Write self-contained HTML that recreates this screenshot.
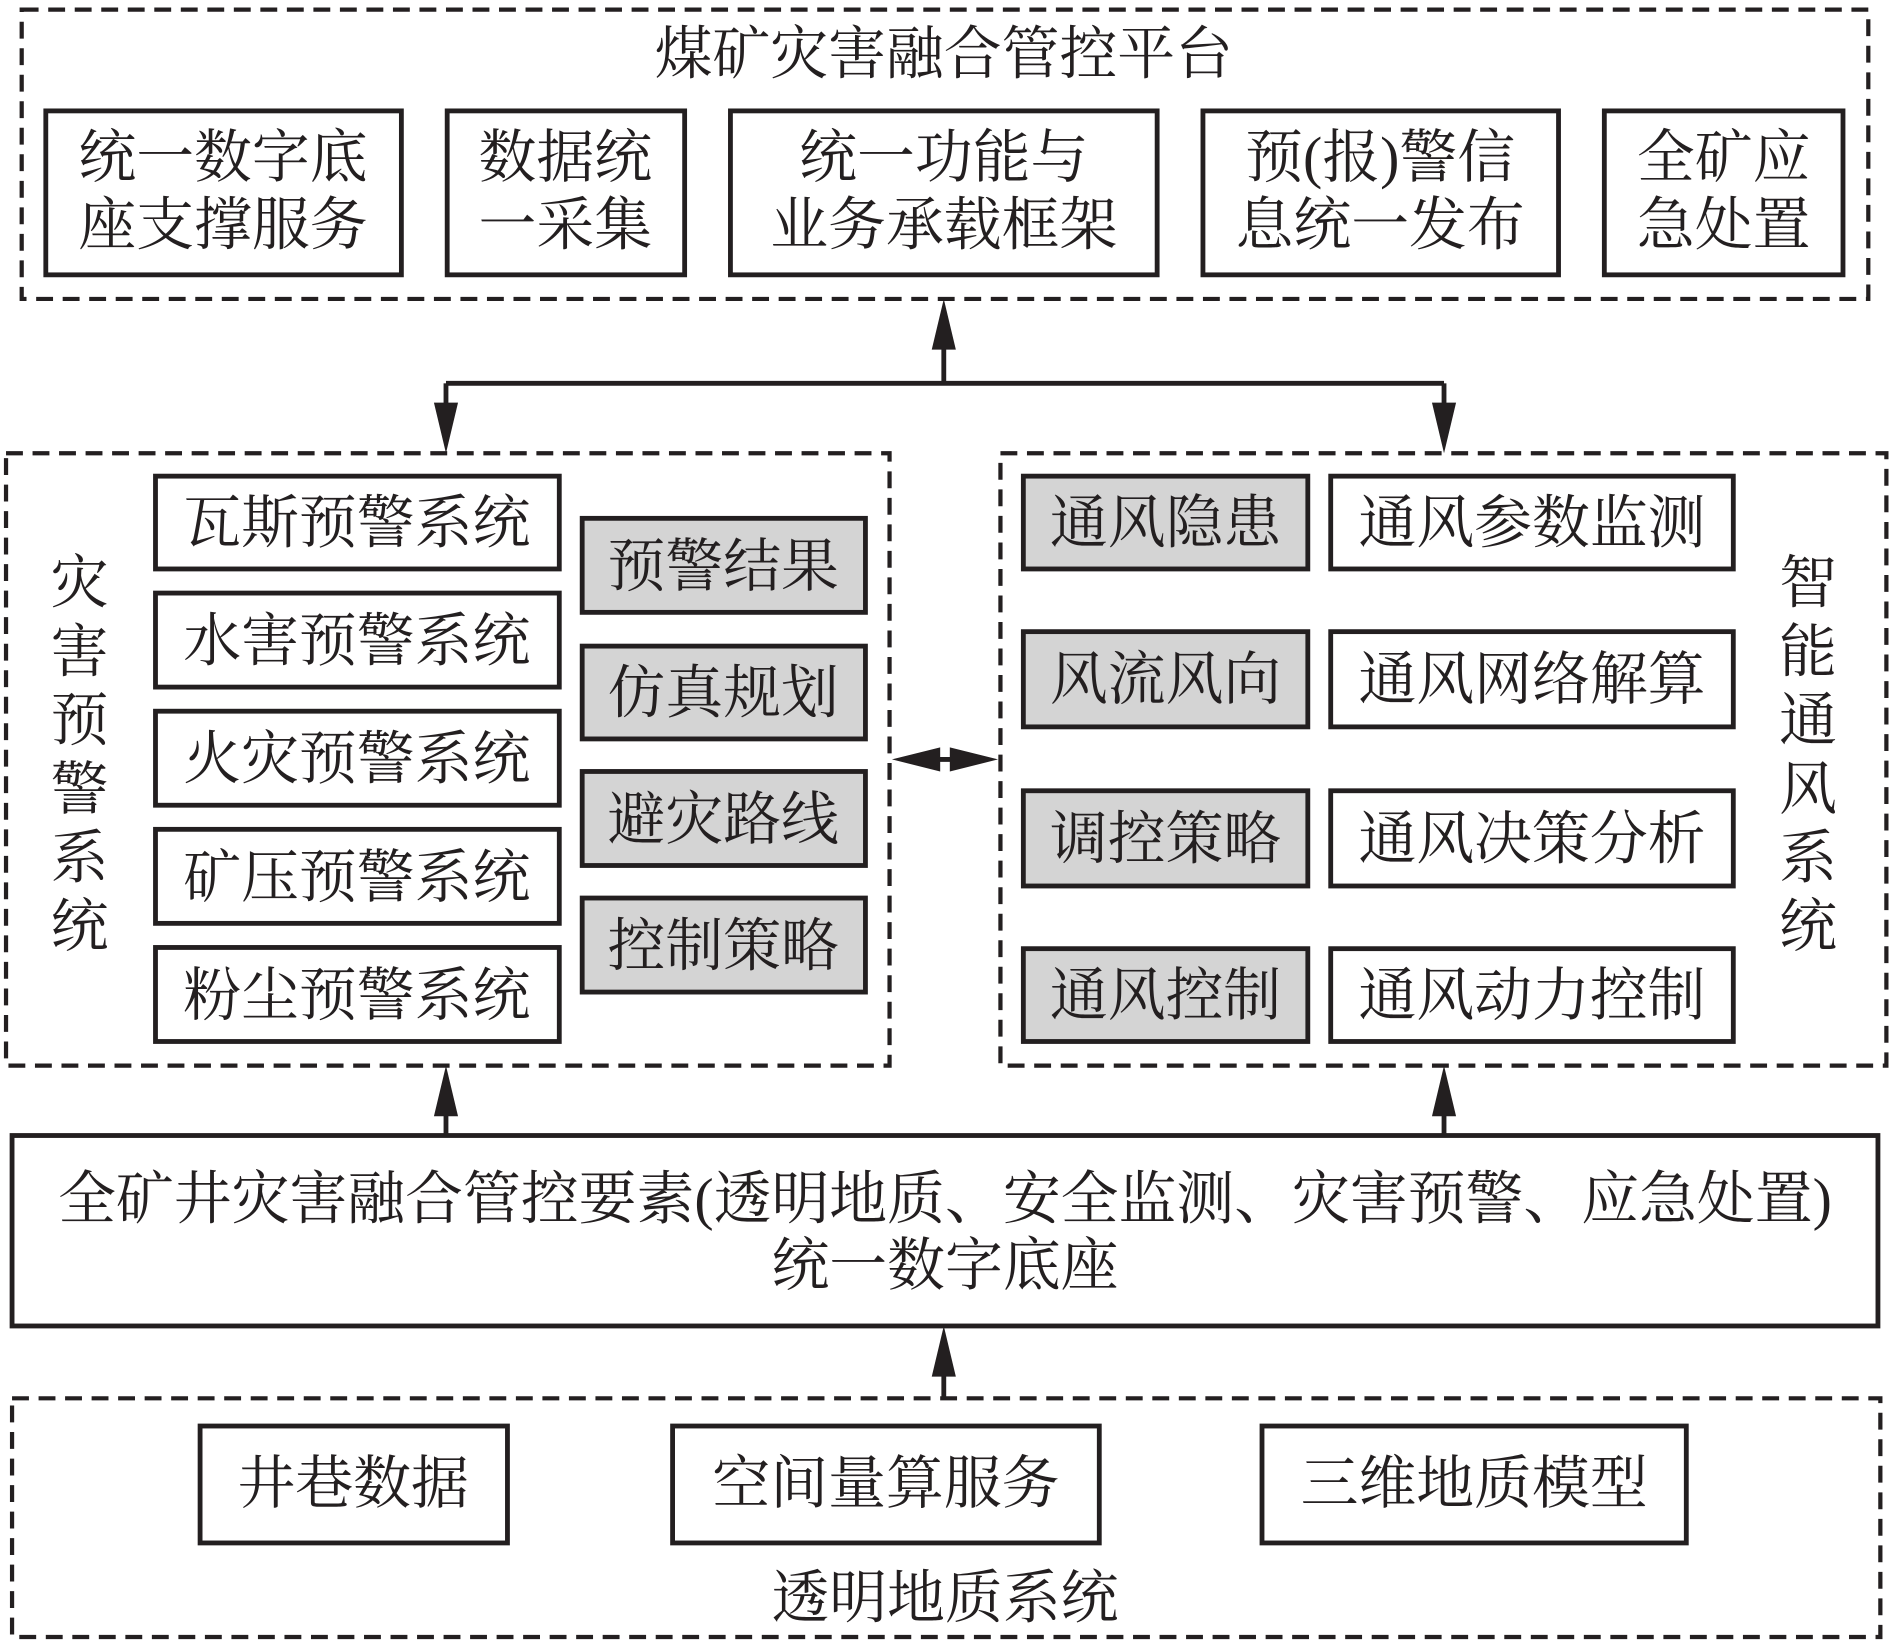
<!DOCTYPE html>
<html><head><meta charset="utf-8"><style>
html,body{margin:0;padding:0;background:#fff;}
svg{display:block;}
text{font-family:"Liberation Serif","Noto Serif CJK SC",serif;fill:#231f20;}
</style></head><body>
<svg width="1890" height="1643" viewBox="0 0 1568 1363" preserveAspectRatio="none" xmlns="http://www.w3.org/2000/svg">
<g fill="none" stroke="#231f20" stroke-width="3.5" stroke-dasharray="14,8">
<rect x="18" y="8" width="1532" height="240"/>
<rect x="5" y="376" width="733" height="508"/>
<rect x="830" y="376" width="735" height="508"/>
<rect x="10" y="1160" width="1550" height="198"/>
</g>
<g fill="#fff" stroke="#231f20" stroke-width="4">
<rect x="38" y="92" width="295" height="136"/>
<rect x="371" y="92" width="197" height="136"/>
<rect x="606" y="92" width="354" height="136"/>
<rect x="998" y="92" width="295" height="136"/>
<rect x="1331" y="92" width="198" height="136"/>
<rect x="129" y="395" width="335" height="77"/>
<rect x="129" y="492" width="335" height="78"/>
<rect x="129" y="590" width="335" height="78"/>
<rect x="129" y="688" width="335" height="78"/>
<rect x="129" y="786" width="335" height="78"/>
<rect x="1104" y="395" width="334" height="77"/>
<rect x="1104" y="524" width="334" height="79"/>
<rect x="1104" y="656" width="334" height="79"/>
<rect x="1104" y="787" width="334" height="77"/>
<rect x="10" y="942" width="1548" height="158"/>
<rect x="166" y="1183" width="255" height="97"/>
<rect x="558" y="1183" width="354" height="97"/>
<rect x="1047" y="1183" width="352" height="97"/>
</g>
<g fill="#d4d4d4" stroke="#231f20" stroke-width="4">
<rect x="483" y="430" width="235" height="78"/>
<rect x="483" y="536" width="235" height="77"/>
<rect x="483" y="640" width="235" height="78"/>
<rect x="483" y="745" width="235" height="78"/>
<rect x="849" y="395" width="236" height="77"/>
<rect x="849" y="524" width="236" height="79"/>
<rect x="849" y="656" width="236" height="79"/>
<rect x="849" y="787" width="236" height="77"/>
</g>
<g stroke="#231f20" stroke-width="4" fill="none">
<line x1="783" y1="318" x2="783" y2="275"/>
<line x1="370" y1="318" x2="1198" y2="318"/>
<line x1="370" y1="318" x2="370" y2="350"/>
<line x1="1198" y1="318" x2="1198" y2="350"/>
<line x1="765" y1="630" x2="803" y2="630"/>
<line x1="370" y1="942" x2="370" y2="910"/>
<line x1="1198" y1="942" x2="1198" y2="910"/>
<line x1="783" y1="1160" x2="783" y2="1128"/>
</g>
<g fill="#231f20">
<polygon points="783,248 773,290 793,290"/>
<polygon points="370,376 360,334 380,334"/>
<polygon points="1198,376 1188,334 1208,334"/>
<polygon points="740,630 780,620 780,640"/>
<polygon points="828,630 788,620 788,640"/>
<polygon points="370,884 360,926 380,926"/>
<polygon points="1198,884 1188,926 1208,926"/>
<polygon points="783,1100 773,1142 793,1142"/>
</g>
<g font-size="48" text-anchor="middle">
<text x="783" y="61">煤矿灾害融合管控平台</text>
<text x="185" y="147">统一数字底</text><text x="185" y="203">座支撑服务</text>
<text x="469" y="147">数据统</text><text x="469" y="203">一采集</text>
<text x="783" y="147">统一功能与</text><text x="783" y="203">业务承载框架</text>
<text x="1145" y="147">预(报)警信</text><text x="1145" y="203">息统一发布</text>
<text x="1430" y="147">全矿应</text><text x="1430" y="203">急处置</text>
<text x="296" y="450">瓦斯预警系统</text>
<text x="296" y="548">水害预警系统</text>
<text x="296" y="646">火灾预警系统</text>
<text x="296" y="744">矿压预警系统</text>
<text x="296" y="842">粉尘预警系统</text>
<text x="600" y="486">预警结果</text>
<text x="600" y="591">仿真规划</text>
<text x="600" y="696">避灾路线</text>
<text x="600" y="801">控制策略</text>
<text x="967" y="450">通风隐患</text>
<text x="967" y="580">风流风向</text>
<text x="967" y="712">调控策略</text>
<text x="967" y="842">通风控制</text>
<text x="1271" y="450">通风参数监测</text>
<text x="1271" y="580">通风网络解算</text>
<text x="1271" y="712">通风决策分析</text>
<text x="1271" y="842">通风动力控制</text>
<text x="66" y="500">灾</text><text x="66" y="557">害</text><text x="66" y="614">预</text>
<text x="66" y="671">警</text><text x="66" y="728">系</text><text x="66" y="785">统</text>
<text x="1500" y="500">智</text><text x="1500" y="557">能</text><text x="1500" y="614">通</text>
<text x="1500" y="671">风</text><text x="1500" y="728">系</text><text x="1500" y="785">统</text>
<text x="784" y="1011">全矿井灾害融合管控要素(透明地质、安全监测、灾害预警、应急处置)</text>
<text x="784" y="1066">统一数字底座</text>
<text x="293" y="1247">井巷数据</text>
<text x="735" y="1247">空间量算服务</text>
<text x="1223" y="1247">三维地质模型</text>
<text x="784" y="1342">透明地质系统</text>
</g>
</svg>
</body></html>
